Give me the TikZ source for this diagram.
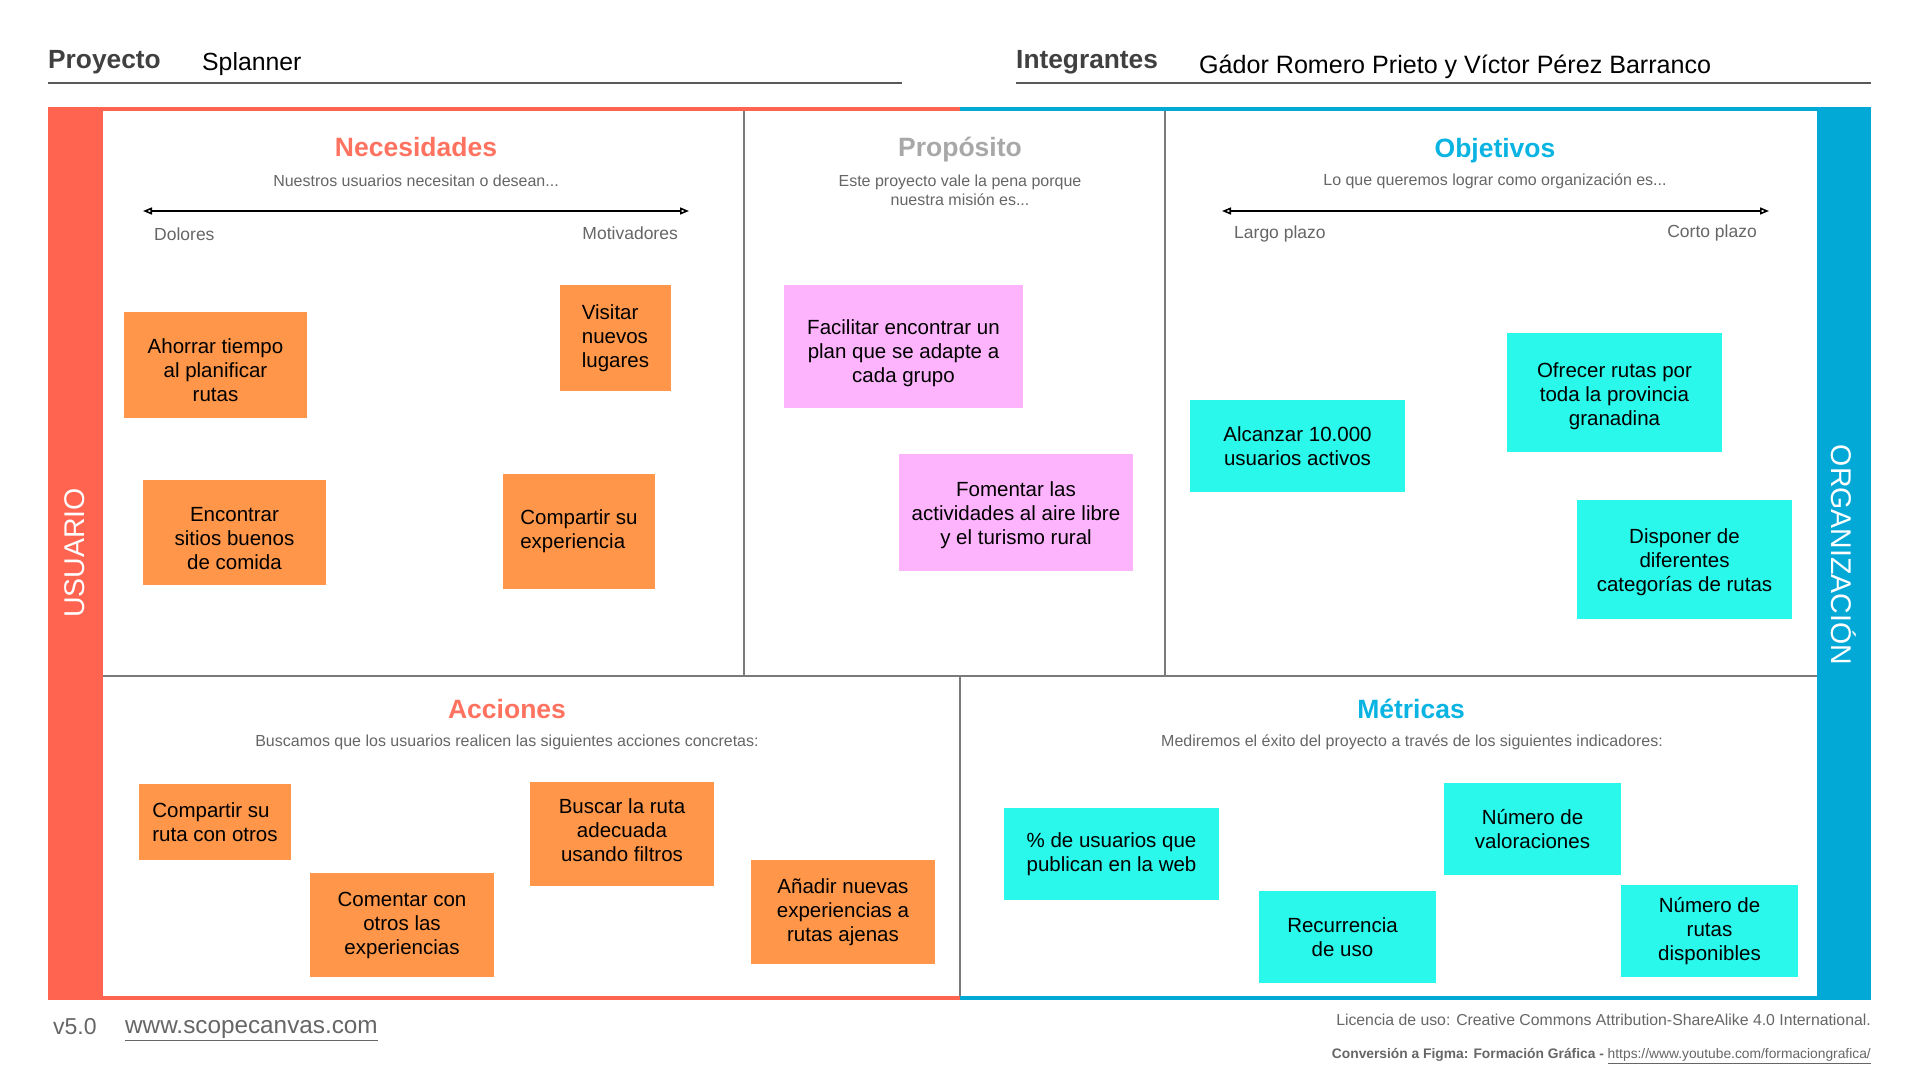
\documentclass[tikz,border=0pt]{standalone}
\usepackage{fontspec}
\setmainfont{Liberation Sans}
\usetikzlibrary{arrows.meta}
\definecolor{redbar}{HTML}{FF6450}
\definecolor{bluebar}{HTML}{02A8D6}
\definecolor{redtitle}{HTML}{FF7260}
\definecolor{bluetitle}{HTML}{0AB4E2}
\definecolor{graytitle}{HTML}{A8A8A8}
\definecolor{txtgray}{HTML}{666666}
\definecolor{divgray}{HTML}{7A7A7A}
\definecolor{noteorange}{HTML}{FF9649}
\definecolor{notepink}{HTML}{FDB4FD}
\definecolor{notecyan}{HTML}{2AF8EA}
\tikzset{
  hdrlabel/.style={anchor=west, inner sep=0pt, text=black!75, font=\fontsize{26.3}{30}\selectfont\bfseries},
  hdrvalue/.style={anchor=west, inner sep=0pt, text=black, font=\fontsize{24.8}{28}\selectfont},
  sectitle/.style={inner sep=0pt, anchor=base, font=\fontsize{26.5}{30}\selectfont\bfseries},
  secsub/.style={inner sep=0pt, text=txtgray, align=center, font=\fontsize{16}{19.5}\selectfont},
  scalelbl/.style={inner sep=0pt, text=txtgray, font=\fontsize{17.5}{20}\selectfont},
  sidelabel/.style={inner sep=0pt, text=white, font=\fontsize{28.5}{32}\selectfont},
  note/.style={rectangle, inner sep=0pt, align=center, font=\fontsize{20.5}{24}\selectfont, text=black},
  orangenote/.style={note, fill=noteorange},
  pinknote/.style={note, fill=notepink},
  cyannote/.style={note, fill=notecyan},
  notetxt/.style={inner sep=0pt, align=center, font=\fontsize{20.5}{24}\selectfont, text=black},
  divider/.style={draw=divgray, line width=2pt},
  hdrline/.style={draw=black!65, line width=1.6pt},
  scalearrow/.style={line width=1.6pt, {Triangle[open,length=9pt,width=7pt]}-{Triangle[open,length=9pt,width=7pt]}},
  foot/.style={inner sep=0pt, text=txtgray}
}
\begin{document}
\begin{tikzpicture}[x=1pt,y=-1pt]
\useasboundingbox (0,0) rectangle (1920,1080);
\fill[white] (0,0) rectangle (1920,1080);

% header
\node[hdrlabel] (proy) at (48,62.5) {Proyecto};
\node[hdrvalue] (proyv) at (202,64) {Splanner};
\draw[hdrline] (48,83) -- (902,83);
\node[hdrlabel] (integ) at (1016,62.5) {Integrantes};
\node[hdrvalue, font=\fontsize{25.1}{28}\selectfont] (integv) at (1199,66.5) {Gádor Romero Prieto y Víctor Pérez Barranco};
\draw[hdrline] (1016,83) -- (1871,83);

% side bars
\fill[redbar] (48,108) rectangle (103,999);
\fill[bluebar] (1817,108) rectangle (1871,999);
\draw[redbar, line width=3.5pt] (48,109) -- (960,109);
\draw[bluebar, line width=3.5pt] (960,109) -- (1871,109);
\draw[redbar, line width=3.5pt] (48,998) -- (960,998);
\draw[bluebar, line width=3.5pt] (960,998) -- (1871,998);
\node[sidelabel, rotate=90] (usuario) at (75,553) {USUARIO};
\node[sidelabel, rotate=-90] (org) at (1844,555) {ORGANIZACIÓN};

% dividers
\draw[divider] (103,676) -- (1817,676);
\draw[divider] (744,111) -- (744,676);
\draw[divider] (1165,111) -- (1165,676);
\draw[divider] (960,676) -- (960,996);

% Necesidades
\node[sectitle, text=redtitle] (nec) at (416,156.5) {Necesidades};
\node[secsub] (necsub) at (416,181) {Nuestros usuarios necesitan o desean...};
\coordinate (necl) at (143,211);
\coordinate (necr) at (689,211);
\draw[scalearrow] (necl) -- (necr);
\node[scalelbl, anchor=west] (dol) at (154,234) {Dolores};
\node[scalelbl, anchor=east] (mot) at (678,233) {Motivadores};

% Proposito
\node[sectitle, text=graytitle] (prop) at (960,156.5) {Propósito};
\node[secsub] (propsub) at (960,190.5) {Este proyecto vale la pena porque\\nuestra misión es...};

% Objetivos
\node[sectitle, text=bluetitle] (obj) at (1495,157.5) {Objetivos};
\node[secsub] (objsub) at (1495,181) {Lo que queremos lograr como organización es...};
\coordinate (objl) at (1222,211);
\coordinate (objr) at (1769,211);
\draw[scalearrow] (objl) -- (objr);
\node[scalelbl, anchor=west] (largo) at (1234,234) {Largo plazo};
\node[scalelbl, anchor=east] (corto) at (1757,233) {Corto plazo};

% Acciones
\node[sectitle, text=redtitle] (acc) at (507,718.5) {Acciones};
\node[secsub] (accsub) at (507,742.5) {Buscamos que los usuarios realicen las siguientes acciones concretas:};

% Metricas
\node[sectitle, text=bluetitle] (met) at (1411,718.5) {Métricas};
\node[secsub] (metsub) at (1412,742.5) {Mediremos el éxito del proyecto a través de los siguientes indicadores:};

% notes: Necesidades
\node[orangenote, minimum width=183pt, minimum height=106pt] (n1) at (215.5,365) {};
\node[notetxt] (n1t) at ([yshift=-5pt]n1.center) {Ahorrar tiempo\\al planificar\\rutas};
\node[orangenote, align=left, minimum width=111pt, minimum height=106pt] (n2) at (615.5,338) {Visitar\\nuevos\\lugares};
\node[orangenote, minimum width=183pt, minimum height=105pt] (n3) at (234.5,532.5) {};
\node[notetxt] (n3t) at ([yshift=-6pt]n3.center) {Encontrar\\sitios buenos\\de comida};
\node[orangenote, align=left, minimum width=152pt, minimum height=115pt] (n4) at (579,531.5) {Compartir su\\experiencia};

% notes: Proposito
\node[pinknote, minimum width=239pt, minimum height=123pt] (p1) at (903.5,346.5) {};
\node[notetxt] (p1t) at ([yshift=-7pt]p1.center) {Facilitar encontrar un\\plan que se adapte a\\cada grupo};
\node[pinknote, minimum width=234pt, minimum height=117pt] (p2) at (1016,512.5) {};
\node[notetxt] (p2t) at ([yshift=-2.5pt]p2.center) {Fomentar las\\actividades al aire libre\\y el turismo rural};

% notes: Objetivos
\node[cyannote, minimum width=215pt, minimum height=92pt] (o1) at (1297.5,446) {Alcanzar 10.000\\usuarios activos};
\node[cyannote, minimum width=215pt, minimum height=119pt] (o2) at (1614.5,392.5) {};
\node[notetxt] (o2t) at ([yshift=-3.5pt]o2.center) {Ofrecer rutas por\\toda la provincia\\granadina};
\node[cyannote, minimum width=215pt, minimum height=119pt] (o3) at (1684.5,559.5) {};
\node[notetxt] (o3t) at ([yshift=-2.5pt]o3.center) {Disponer de\\diferentes\\categorías de rutas};

% notes: Acciones
\node[orangenote, align=left, minimum width=152pt, minimum height=76pt] (a1) at (215,822) {Compartir su\\ruta con otros};
\node[orangenote, minimum width=184pt, minimum height=104pt] (a2) at (402,925) {Comentar con\\otros las\\experiencias};
\node[orangenote, minimum width=184pt, minimum height=104pt] (a3) at (622,834) {};
\node[notetxt] (a3t) at ([yshift=3.5pt]a3.center) {Buscar la ruta\\adecuada\\usando filtros};
\node[orangenote, minimum width=184pt, minimum height=104pt] (a4) at (843,912) {Añadir nuevas\\experiencias a\\rutas ajenas};

% notes: Metricas
\node[cyannote, minimum width=215pt, minimum height=92pt] (m1) at (1111.5,854) {\% de usuarios que\\publican en la web};
\node[cyannote, minimum width=177pt, minimum height=92pt] (m2) at (1347.5,937) {};
\node[notetxt] (m2t) at ([xshift=-5pt]m2.center) {Recurrencia\\de uso};
\node[cyannote, minimum width=177pt, minimum height=92pt] (m3) at (1532.5,829) {Número de\\valoraciones};
\node[cyannote, minimum width=177pt, minimum height=92pt] (m4) at (1709.5,931) {Número de\\rutas\\disponibles};

% footer
\node[foot, anchor=west, font=\fontsize{23}{26}\selectfont] (ver) at (53,1027) {v5.0};
\node[foot, anchor=west, font=\fontsize{24.3}{27}\selectfont] (url) at (125,1030.5) {\underline{www.scopecanvas.com}};
\node[foot, anchor=east, font=\fontsize{15.8}{18}\selectfont] (lic) at (1871,1020) {Licencia de uso: Creative Commons Attribution-ShareAlike 4.0 International.};
\node[foot, anchor=east, font=\fontsize{13.8}{16}\selectfont] (conv) at (1871,1056) {\textbf{Conversión a Figma: Formación Gráfica -} \underline{https://www.youtube.com/formaciongrafica/}};
\end{tikzpicture}
\end{document}
